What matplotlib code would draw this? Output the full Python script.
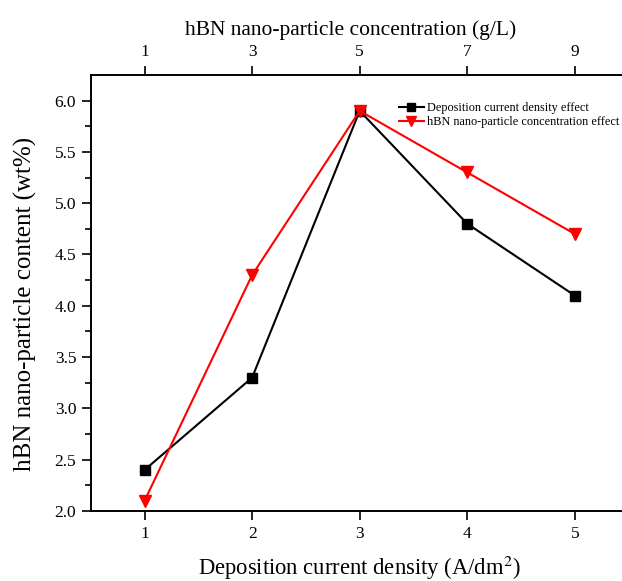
import numpy as np
import matplotlib.pyplot as plt

plt.rcParams['font.family'] = ['Liberation Serif', 'DejaVu Serif']
plt.rcParams['mathtext.fontset'] = 'stix'

current_density = [1, 2, 3, 4, 5]
conc_ticks = [1, 3, 5, 7, 9]
content_current = [2.4, 3.3, 5.9, 4.8, 4.1]
content_conc = [2.1, 4.3, 5.9, 5.3, 4.7]

fig = plt.figure(figsize=(6.22, 5.81), dpi=100)
ax = fig.add_axes([0.146, 0.1205, 0.8645, 0.7505])

ax.plot(current_density, content_current, color='black', marker='s', markersize=7,
        linewidth=1.5, label='Deposition current density effect')
ax.plot(current_density, content_conc, color='red', marker='v', markersize=9,
        linewidth=1.5, label='hBN nano-particle concentration effect')

ax.set_xlim(0.5, 5.5)
ax.set_ylim(2.0, 6.25)
ax.set_xticks(current_density)
ax.set_yticks(np.arange(2.0, 6.01, 0.5))
ax.set_yticks(np.arange(2.25, 6.01, 0.5), minor=True)
ax.yaxis.set_major_formatter(plt.FormatStrFormatter('%.1f'))
ax.tick_params(axis='both', which='major', direction='out', length=6.5, width=1.2,
               labelsize=12.5, pad=4)
ax.tick_params(axis='y', which='minor', direction='out', length=4, width=1.2)
for s in ax.spines.values():
    s.set_linewidth(1.2)

ax.set_xlabel('Deposition current density (A/dm$^2$)', fontsize=16.3, labelpad=8.5)
ax.set_ylabel('hBN nano-particle content (wt%)', fontsize=18)
ax.yaxis.set_label_coords(-0.100, 0.475)

top = ax.twiny()
top.set_xlim(ax.get_xlim())
top.set_xticks(current_density)
top.set_xticklabels([str(c) for c in conc_ticks])
top.tick_params(axis='x', direction='out', length=6.5, width=1.2, labelsize=12.5, pad=4)
top.set_xlabel('hBN nano-particle concentration (g/L)', fontsize=15.5)
top.xaxis.set_label_coords(0.4835, 1.092)
for s in top.spines.values():
    s.set_linewidth(1.2)

ax.legend(loc='upper left', bbox_to_anchor=(0.632, 0.835), bbox_transform=fig.transFigure,
          frameon=False, fontsize=8.8, handlelength=2.0, handletextpad=0.3,
          labelspacing=0.2, borderpad=0, markerscale=0.8)

fig.savefig('out.png', dpi=100)
